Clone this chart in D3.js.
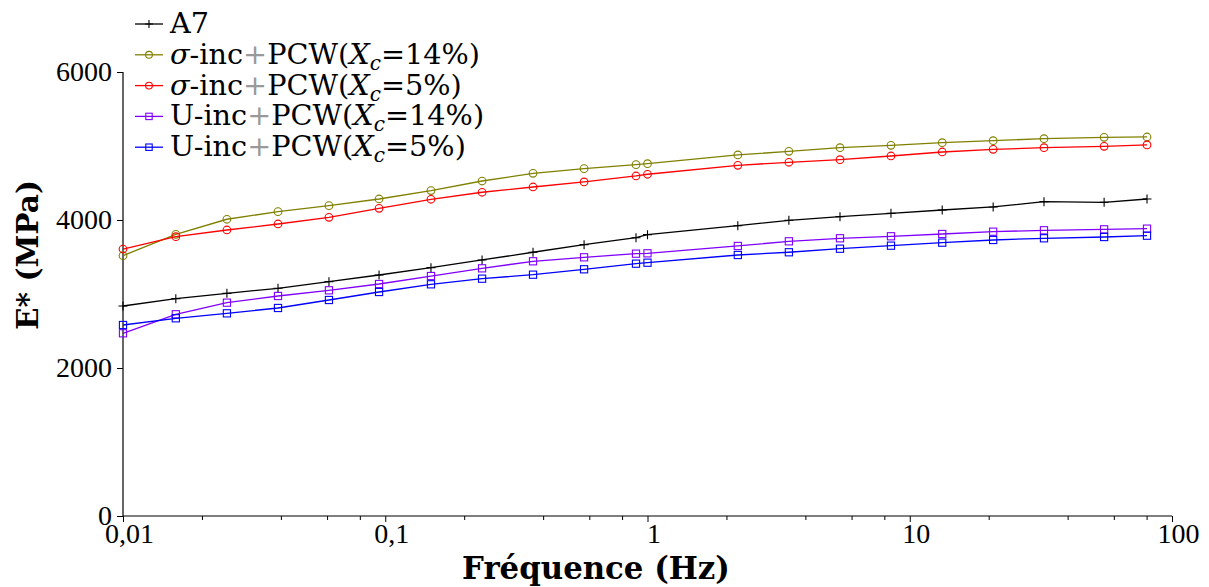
<!DOCTYPE html>
<html><head><meta charset="utf-8">
<script src="https://cdn.jsdelivr.net/npm/d3@7"></script>
<style>
html,body{margin:0;padding:0;background:#fff;}
svg{display:block;}
</style></head>
<body>
<svg id="chart" width="1209" height="587"></svg>
<script>
const frequencies = [0.01,0.0159,0.0249,0.039,0.061,0.0947,0.1494,0.234,0.366,0.573,0.904,1.0,2.21,3.46,5.42,8.48,13.3,20.8,32.5,55.1,80.3];
const a7 = [2838,2937,3009,3077,3167,3257,3356,3460,3564,3667,3761,3802,3923,3996,4045,4090,4135,4176,4248,4239,4284];
const sigma14 = [3518,3807,4010,4113,4194,4284,4398,4527,4631,4694,4748,4761,4879,4928,4977,5009,5045,5072,5099,5117,5122];
const sigma5 = [3608,3775,3865,3946,4036,4158,4280,4375,4446,4514,4595,4618,4739,4780,4815,4865,4919,4955,4977,4996,5014];
const u14 = [2469,2726,2883,2973,3050,3135,3243,3347,3442,3496,3545,3550,3649,3712,3753,3780,3811,3842,3861,3874,3883];
const u5 = [2581,2672,2739,2811,2919,3027,3131,3207,3261,3334,3410,3423,3527,3564,3612,3653,3694,3730,3753,3770,3788];
const xMajorTicks = [0.01,0.1,1,10,100];
const xTickLabels = ["0,01","0,1","1","10","100"];
const xMinorTicks = [0.02,0.04,0.06,0.08,0.2,0.4,0.6,0.8,2,4,6,8,20,40,60,80];
const yTicks = [0,2000,4000,6000];
const yTickLabels = ["0","2000","4000","6000"];

const series = [
  {name:"A7", values:a7, color:"#000000", marker:"plus"},
  {name:"s14", values:sigma14, color:"#808000", marker:"circle", pre:"σ", xc:"14%"},
  {name:"s5", values:sigma5, color:"#ff0000", marker:"circle", pre:"σ", xc:"5%"},
  {name:"u14", values:u14, color:"#8000ff", marker:"square", pre:"U", xc:"14%"},
  {name:"u5", values:u5, color:"#0000ff", marker:"square", pre:"U", xc:"5%"}
];

const svg = d3.select("#chart");
const L = 123, R = 1172, T = 72, B = 516;
const x = d3.scaleLog().domain([0.01,100]).range([L,R]);
const y = d3.scaleLinear().domain([0,6000]).range([B,T]);
const tickFont = '"Liberation Serif", serif';
const textFont = '"DejaVu Serif", serif';

function fitFont(sel, target){
  const w = sel.node().getComputedTextLength();
  const fs = parseFloat(sel.style("font-size"));
  sel.style("font-size", (fs*target/w).toFixed(2)+"px");
}

// axes
const gx = svg.append("g").attr("transform",`translate(0,${B})`)
  .call(d3.axisBottom(x).tickValues(xMajorTicks).tickSize(6).tickFormat((d,i)=>xTickLabels[i]));
gx.select(".domain").attr("d",`M${L},0H${R}`).attr("stroke","#000").attr("stroke-width",1.2);
gx.selectAll(".tick line").attr("stroke","#000");
gx.selectAll(".tick text").style("font-family",tickFont).style("font-size","28px").attr("fill","#000")
  .attr("dx",6).attr("y",2).attr("dy","0.9em");
const gxm = svg.append("g").attr("transform",`translate(0,${B})`)
  .call(d3.axisBottom(x).tickValues(xMinorTicks).tickSize(4).tickFormat(""));
gxm.select(".domain").remove();
gxm.selectAll(".tick line").attr("stroke","#000");

const gy = svg.append("g").attr("transform",`translate(${L},0)`)
  .call(d3.axisLeft(y).tickValues(yTicks).tickSize(6).tickFormat((d,i)=>yTickLabels[i]));
gy.select(".domain").attr("d",`M0,${T}V${B}`).attr("stroke","#000").attr("stroke-width",1.2);
gy.selectAll(".tick line").attr("stroke","#000");
gy.selectAll(".tick text").style("font-family",tickFont).style("font-size","28px").attr("fill","#000").attr("x",-11);

// axis titles
const xt = svg.append("text").attr("x",596).attr("y",579).attr("text-anchor","middle")
  .style("font-family",textFont).style("font-weight","bold").style("font-size","28px")
  .text("Fréquence (Hz)");
fitFont(xt, 268);
const yt = svg.append("text").attr("transform","translate(38,255) rotate(-90)").attr("text-anchor","middle")
  .style("font-family",textFont).style("font-weight","bold").style("font-size","28px")
  .text("E* (MPa)");
fitFont(yt, 150);

function drawMarker(g, type, cx, cy, color, s){
  if(type==="plus"){
    g.append("path").attr("d",`M${cx-s},${cy}H${cx+s}M${cx},${cy-s}V${cy+s}`)
      .attr("stroke",color).attr("stroke-width",1.1).attr("fill","none");
  } else if(type==="circle"){
    g.append("circle").attr("cx",cx).attr("cy",cy).attr("r",s*0.85)
      .attr("stroke",color).attr("stroke-width",1.1).attr("fill","none");
  } else {
    g.append("rect").attr("x",cx-s*0.8).attr("y",cy-s*0.8).attr("width",s*1.6).attr("height",s*1.6)
      .attr("stroke",color).attr("stroke-width",1.1).attr("fill","none");
  }
}

const line = d3.line().x((d,i)=>x(frequencies[i])).y(d=>y(d));
series.forEach(s=>{
  const g = svg.append("g");
  g.append("path").attr("d",line(s.values)).attr("fill","none").attr("stroke",s.color).attr("stroke-width",1.3);
  s.values.forEach((v,i)=>drawMarker(g,s.marker,x(frequencies[i]),y(v),s.color,4.5));
});

// legend
const lg = svg.append("g");
const legendTexts = [];
series.forEach((s,i)=>{
  const ly = 24 + i*30.8;
  lg.append("line").attr("x1",135).attr("x2",163).attr("y1",ly).attr("y2",ly).attr("stroke",s.color).attr("stroke-width",1.3);
  drawMarker(lg,s.marker,149,ly,s.color,4);
  const t = lg.append("text").attr("x",170).attr("y",ly+9).style("font-family",textFont).style("font-size","28px").attr("fill","#000");
  if(s.name==="A7"){ t.text("A7"); }
  else {
    t.append("tspan").style("font-style", s.pre==="σ" ? "italic" : "normal").text(s.pre);
    t.append("tspan").text("-inc");
    t.append("tspan").attr("fill","#999").text("+");
    t.append("tspan").text("PCW(");
    t.append("tspan").style("font-style","italic").text("X");
    t.append("tspan").style("font-style","italic").style("font-size","0.7em").attr("dy",6).text("c");
    t.append("tspan").attr("dy",-6).text("=" + s.xc + ")");
  }
  legendTexts.push(t);
});
{
  const ref = legendTexts[1];
  const w = ref.node().getComputedTextLength();
  const fs = 28*310/w;
  legendTexts.forEach(t=>t.style("font-size",fs.toFixed(2)+"px"));
}
</script>
</body></html>
